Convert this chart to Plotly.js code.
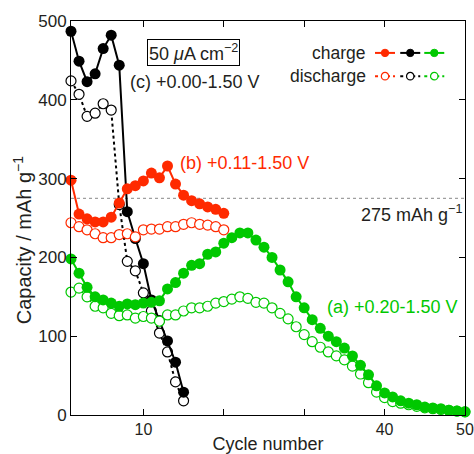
<!DOCTYPE html>
<html>
<head>
<meta charset="utf-8">
<script src="https://cdn.plot.ly/plotly-3.0.1.min.js"></script>
<style>html,body{margin:0;padding:0;background:#fff;}#chart{width:474px;height:454px;}</style>
</head>
<body>
<div id="chart"></div>
<script>
// Cycle numbers
var cyclesC = [1,2,3,4,5,6,7,8,9,10,11,12,13,14,15];
var cyclesB = [1,2,3,4,5,6,7,8,9,10,11,12,13,14,15,16,17,18,19,20];
var cyclesA = [1,2,3,4,5,6,7,8,9,10,11,12,13,14,15,16,17,18,19,20,
               21,22,23,24,25,26,27,28,29,30,31,32,33,34,35,36,37,38,39,40,
               41,42,43,44,45,46,47,48,49,50];

// (c) +0.00-1.50 V  (black)
var chargeC    = [487,449,423,433,465,482,444,258,224,192,146,120,94,67,29];
var dischargeC = [424,407,379,383,395,387,267,195,183,155,132,104,80,42,18];

// (b) +0.11-1.50 V  (red)
var chargeB    = [298,255,249,245,245,251,269,287,291,297,307,301,316,293,279,272,268,264,261,256];
var dischargeB = [244,239,235,230,225,225,229,230,226,235,236,236,239,239,242,244,242,241,239,235];

// (a) +0.20-1.50 V  (green)
var chargeA = [198,180,162,150,146,142,138,141,140,142,143,145,160,168,180,190,192,204,207,218,
               225,231,231,222,213,200,184,169,150,136,121,110,100,93,85,75,63,51,37,28,
               23,18,15,13,10,9,8,6,5,4];
var dischargeA = [156,161,150,138,136,129,126,127,123,125,123,119,127,127,132,136,136,138,142,144,
                  147,150,148,143,142,136,129,122,112,102,93,86,80,75,70,62,52,41,29,22,
                  17,15,13,11,9,8,7,6,5,4];

var refLine = 275;
var xTicks = [10,20,30,40,50];
var xTickText = ['10','','','40','50'];   // 20 and 30 are hidden behind the axis title in the original
var yTicks = [0,100,200,300,400,500];

var RED = '#ff2a00', GREEN = '#00c800', BLACK = '#000000';

function chargeTrace(x, y, c) {
  return {x: x, y: y, type: 'scatter', mode: 'lines+markers', cliponaxis: false,
    line: {color: c, width: 2}, marker: {color: c, size: 11}, showlegend: false};
}
function dischargeTrace(x, y, c) {
  return {x: x, y: y, type: 'scatter', mode: 'lines+markers', cliponaxis: false,
    line: {color: c, width: 2, dash: 'dot'},
    marker: {color: 'white', size: 10, line: {color: c, width: 1.2}}, showlegend: false};
}

var data = [
  dischargeTrace(cyclesC, dischargeC, BLACK),
  chargeTrace(cyclesC, chargeC, BLACK),
  dischargeTrace(cyclesB, dischargeB, RED),
  chargeTrace(cyclesB, chargeB, RED),
  dischargeTrace(cyclesA, dischargeA, GREEN),
  chargeTrace(cyclesA, chargeA, GREEN)
];

var FONT = 'Liberation Sans, Arial, Helvetica, sans-serif';
var TXT = '#231f20';

// legend samples (layout decoration)
var legendShapes = [];
var legCols = [RED, BLACK, GREEN];
var legX = [0.797, 0.861, 0.922];
[0.919, 0.860].forEach(function (yy, row) {
  legCols.forEach(function (c, k) {
    legendShapes.push({type: 'line', xref: 'paper', yref: 'paper', xsizemode: 'pixel', xanchor: legX[k],
      x0: -10, x1: 10, y0: yy, y1: yy, line: {color: c, width: 2, dash: row ? 'dot' : 'solid'}});
    legendShapes.push({type: 'circle', xref: 'paper', yref: 'paper', xsizemode: 'pixel', ysizemode: 'pixel',
      xanchor: legX[k], yanchor: yy, x0: -3.7, x1: 3.7, y0: -3.7, y1: 3.7,
      fillcolor: row ? 'white' : c, line: {color: c, width: row ? 1.2 : 1}});
  });
});

function ann(x, y, text, xa, color, size) {
  return {xref: 'paper', yref: 'paper', x: x, y: y, xanchor: xa, yanchor: 'middle', text: text,
    showarrow: false, font: {family: FONT, size: size || 18, color: color || TXT}};
}

var boxAnn = ann(0.3105, 0.921, '50 <i>μ</i>A cm<sup>−2</sup>', 'center');
boxAnn.bordercolor = '#000'; boxAnn.borderwidth = 1; boxAnn.borderpad = 1; boxAnn.bgcolor = '#fff';

var yTitle = ann(-0.124, 0.444, 'Capacity / mAh g<sup>−1</sup>', 'center', TXT, 20);
yTitle.textangle = -90;

var layout = {
  width: 474, height: 454,
  margin: {l: 71, r: 9, t: 21, b: 39},
  paper_bgcolor: '#fff', plot_bgcolor: '#fff',
  font: {family: FONT, size: 17, color: TXT},
  xaxis: {range: [1, 50], tickvals: xTicks, ticktext: xTickText, ticks: 'inside', ticklen: 6, tickcolor: '#000',
    showline: true, linecolor: '#000', linewidth: 1, mirror: 'ticks', showgrid: false, zeroline: false,
    ticklabeloverflow: 'allow',
    tickfont: {size: 16, color: TXT},
    title: {text: 'Cycle number', font: {size: 18, color: TXT}, standoff: 0}},
  yaxis: {range: [0, 500], tickvals: yTicks, ticks: 'inside', ticklen: 6, tickcolor: '#000',
    showline: true, linecolor: '#000', linewidth: 1, mirror: 'ticks', showgrid: false, zeroline: false,
    ticklabeloverflow: 'allow',
    tickfont: {size: 17, color: TXT}},
  shapes: [
    {type: 'line', xref: 'x', yref: 'y', x0: 1, x1: 50, y0: refLine, y1: refLine,
      line: {color: '#888', width: 1, dash: 'dot'}, layer: 'below'}
  ].concat(legendShapes),
  annotations: [
    yTitle,
    boxAnn,
    ann(0.145, 0.845, '(c) +0.00-1.50 V', 'left'),
    ann(0.272, 0.640, '(b) +0.11-1.50 V', 'left', RED),
    ann(0.645, 0.274, '(a) +0.20-1.50 V', 'left', GREEN),
    ann(0.997, 0.512, '275 mAh g<sup>−1</sup>', 'right'),
    ann(0.753, 0.919, 'charge', 'right', TXT, 17.5),
    ann(0.753, 0.860, 'discharge', 'right', TXT, 17.5)
  ]
};

Plotly.newPlot('chart', data, layout, {displayModeBar: false, staticPlot: true});
</script>
</body>
</html>
